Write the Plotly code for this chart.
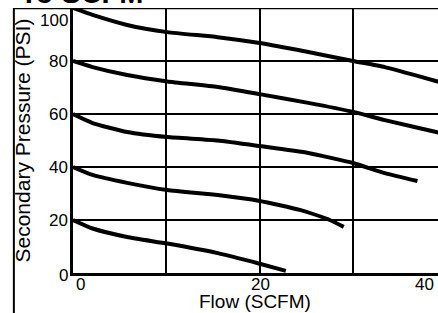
import plotly.graph_objects as go

# Data
flow_100 = [0, 2.1, 5.8, 10.1, 15.5, 20, 25.2, 30, 33.4, 37, 40]
psi_100 = [100, 97.4, 93.6, 90.9, 89, 86.8, 83.4, 80, 77.7, 74.3, 71.3]

flow_80 = [0, 2.1, 5.8, 10.1, 15.5, 20, 25.2, 30, 33.4, 38.9, 40]
psi_80 = [80, 77.7, 74.7, 72.3, 70.2, 67.5, 64.2, 60.8, 57.7, 53.2, 52.3]

flow_60 = [0, 2.1, 5.8, 10.1, 15.5, 20, 25.2, 30, 33.4, 36.9]
psi_60 = [60, 56.6, 53.2, 51.3, 50.0, 47.9, 45.3, 41.5, 37.7, 34.7]

flow_40 = [0, 2.1, 5.8, 10.1, 15.5, 20, 24.3, 27.5, 29]
psi_40 = [40, 37, 34, 31.3, 29.4, 27.2, 23.8, 20, 17.4]

flow_20 = [0, 2.1, 5.8, 10.1, 15.5, 20, 22.8]
psi_20 = [20, 16.8, 13.6, 11.1, 7.5, 3.5, 0.8]

x_ticks = [0, 20, 40]
y_ticks = [0, 20, 40, 60, 80, 100]
x_grid = [10, 20, 30]
y_grid = [20, 40, 60, 80]

FONT = "Liberation Sans"
X_MAX = 39.1  # visible right edge of the flow axis

fig = go.Figure()
for fx, py in [(flow_100, psi_100), (flow_80, psi_80), (flow_60, psi_60),
               (flow_40, psi_40), (flow_20, psi_20)]:
    fig.add_trace(go.Scatter(x=fx, y=py, mode="lines",
                             line=dict(color="black", width=4, shape="spline", smoothing=0.5),
                             showlegend=False, hoverinfo="skip"))

fig.update_layout(
    width=438, height=313,
    margin=dict(l=73, r=0, t=8, b=40),
    paper_bgcolor="white", plot_bgcolor="white",
    font=dict(family=FONT, color="black"),
    xaxis=dict(range=[0, X_MAX], tickvals=x_grid, showticklabels=False,
               showgrid=True, gridcolor="black", gridwidth=2,
               zeroline=False, showline=True, linecolor="black", linewidth=3),
    yaxis=dict(range=[0, 100], tickvals=y_grid, showticklabels=False,
               showgrid=True, gridcolor="black", gridwidth=2,
               zeroline=False, showline=True, linecolor="black", linewidth=3),
)

# Top frame line and outer left border
fig.add_shape(type="line", xref="paper", yref="y", x0=-0.162, x1=1, y0=100, y1=100,
              line=dict(color="black", width=2.5))
fig.add_shape(type="line", xref="paper", yref="paper", x0=-0.162, x1=-0.162, y0=-0.2, y1=1,
              line=dict(color="black", width=2))

# Y tick labels
for v in y_ticks:
    fig.add_annotation(x=0, y=v, xref="x", yref="y", text=str(v), showarrow=False,
                       xanchor="right", yanchor="middle", xshift=-3,
                       yshift=(-12 if v == 100 else (-2 if v == 0 else 0)),
                       font=dict(size=17, family=FONT, color="black"))
# X tick labels (the last one sits just inside the cropped right edge)
for v in x_ticks:
    if v <= X_MAX:
        fig.add_annotation(x=v, y=0, xref="x", yref="y", text=str(v), showarrow=False,
                           xanchor="center", yanchor="middle", xshift=(7 if v == 0 else 1),
                           yshift=-11, font=dict(size=17, family=FONT, color="black"))
    else:
        fig.add_annotation(x=0.964, y=0, xref="paper", yref="y", text=str(v), showarrow=False,
                           xanchor="center", yanchor="middle", yshift=-11,
                           font=dict(size=17, family=FONT, color="black"))

# Axis titles
fig.add_annotation(x=19.5, y=-0.109, xref="x", yref="paper", text="Flow (SCFM)",
                   showarrow=False, xanchor="center", yanchor="middle",
                   font=dict(size=19, family=FONT, color="black"))
fig.add_annotation(x=-0.137, y=0.5, xref="paper", yref="paper", text="Secondary Pressure (PSI)",
                   showarrow=False, textangle=-90, xanchor="center", yanchor="middle",
                   font=dict(size=21, family=FONT, color="black"))

# Cut-off heading at top
fig.add_annotation(x=-0.152, y=1.0, xref="paper", yref="paper", text="<b>To SCFM</b>",
                   showarrow=False, xanchor="left", yanchor="bottom", yshift=-3,
                   font=dict(size=29, family=FONT, color="black"))

fig.write_html("out.html", config={"displayModeBar": False},
               post_script="document.body.style.margin='0px';")
